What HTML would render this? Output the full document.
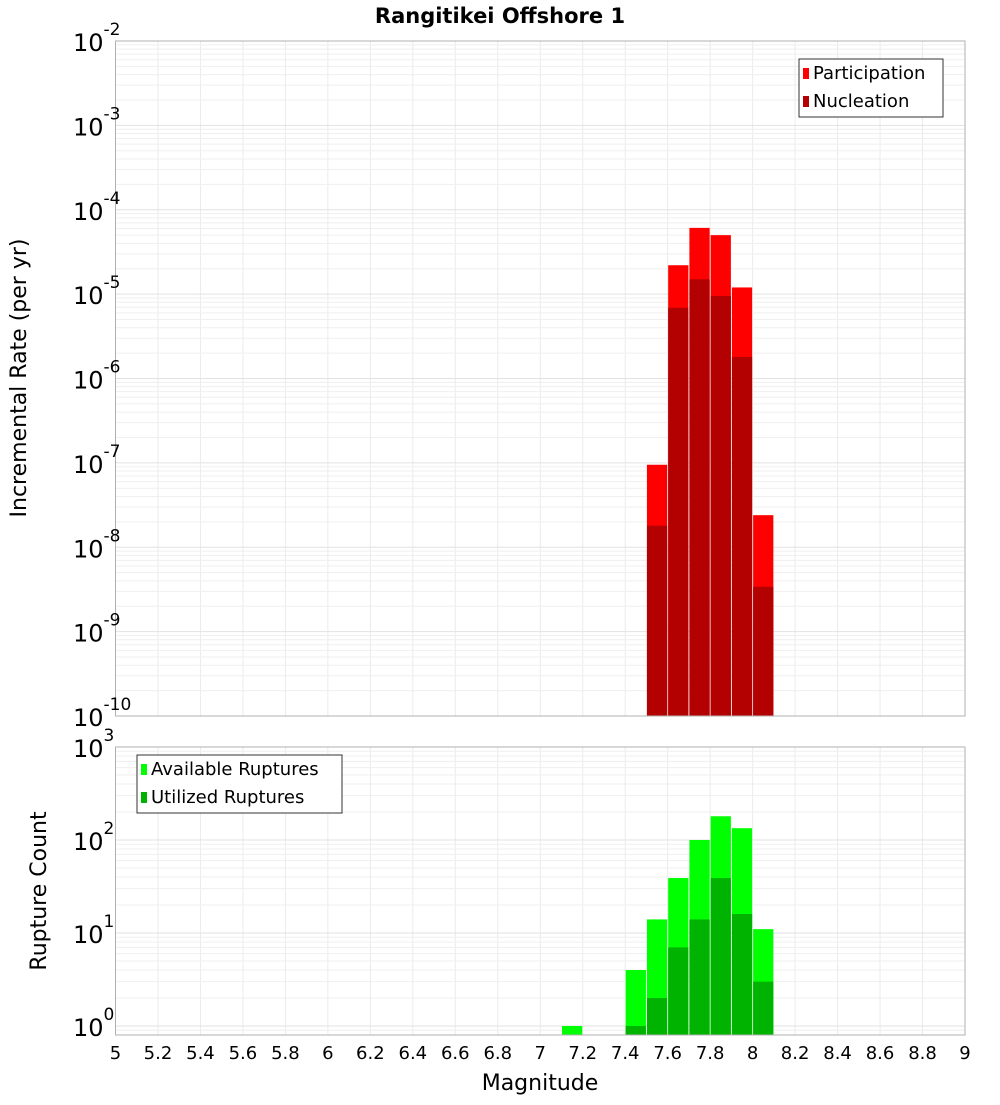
<!DOCTYPE html>
<html><head><meta charset="utf-8"><style>
body{margin:0;background:#fff;width:1000px;height:1100px;overflow:hidden}
svg{font-family:"DejaVu Sans","Liberation Sans",sans-serif}
</style></head><body>
<svg id="c" width="1000" height="1100" xmlns="http://www.w3.org/2000/svg">
<text x="500" y="23" text-anchor="middle" font-size="21" font-weight="bold">Rangitikei Offshore 1</text>
<text transform="translate(26,378) rotate(-90)" text-anchor="middle" font-size="22">Incremental Rate (per yr)</text>
<text transform="translate(46,891) rotate(-90)" text-anchor="middle" font-size="22">Rupture Count</text>
<text x="540" y="1090" text-anchor="middle" font-size="22">Magnitude</text>
<g id="g"></g>
</svg>
<script>
const bins=[7.55,7.65,7.75,7.85,7.95,8.05];
const participation=[9.5e-8,2.2e-5,6.1e-5,5.0e-5,1.2e-5,2.4e-8];
const nucleation=[1.8e-8,6.9e-6,1.5e-5,9.5e-6,1.8e-6,3.4e-9];
const rupBins=[7.15,7.45,7.55,7.65,7.75,7.85,7.95,8.05];
const available=[1,4,14,39,100,180,134,11];
const utilized=[0,1,2,7,14,39,16,3];
const xTicks=[5,5.2,5.4,5.6,5.8,6,6.2,6.4,6.6,6.8,7,7.2,7.4,7.6,7.8,8,8.2,8.4,8.6,8.8,9];
const topExps=[-10,-9,-8,-7,-6,-5,-4,-3,-2];
const botExps=[0,1,2,3];

const NS="http://www.w3.org/2000/svg";
const g=document.getElementById('g');
function mk(t,a,p){const e=document.createElementNS(NS,t);for(const k in a)e.setAttribute(k,a[k]);(p||g).appendChild(e);return e;}
const X0=115.5,X1=965;
const x=v=>X0+(v-5)/4*(X1-X0);
const T0=41,T1=716;
const yTop=v=>T1-(Math.log10(v)+10)/8*(T1-T0);
const B0=747,B1=1035;
const bdec=93;
const yBot=v=>1026-Math.log10(v)*bdec;

function frame(y0,y1,yf,lo,hi,minV){
  for(const t of xTicks){const l=mk('line',{x1:x(t),x2:x(t),y1:y0,y2:y1,stroke:'#ebebeb'});}
  for(let e=lo;e<hi;e++)for(let m=1;m<10;m++){const v=m*Math.pow(10,e);if(v<minV)continue;const yy=yf(v);if(yy<y0||yy>y1)continue;const l=mk('line',{x1:X0,x2:X1,y1:yy,y2:yy,stroke:m==1?'#e2e2e2':'#efefef'});}
}
frame(T0,T1,yTop,-10,-2,1e-10);
frame(B0,B1,yBot,-1,3,0.8);

const bw=(X1-X0)/40;
function bar(cx,v,yf,base,fill,name){if(!(v>0))return;const yy=yf(v);const r=mk('rect',{x:x(cx)-bw/2+0.5,y:yy,width:bw-1,height:base-yy,fill:fill});}
bins.forEach((b,i)=>bar(b,participation[i],yTop,T1,'#ff0000','participation-bar'));
bins.forEach((b,i)=>bar(b,nucleation[i],yTop,T1,'#b30000','nucleation-bar'));
rupBins.forEach((b,i)=>bar(b,available[i],yBot,B1,'#00ff00','available-bar'));
rupBins.forEach((b,i)=>bar(b,utilized[i],yBot,B1,'#00b300','utilized-bar'));

let f=mk('rect',{x:X0,y:T0,width:X1-X0,height:T1-T0,fill:'none',stroke:'#b0b0b0'});

f=mk('rect',{x:X0,y:B0,width:X1-X0,height:B1-B0,fill:'none',stroke:'#b0b0b0'});


function ylab(yy,e,name){const t=mk('text',{x:73,y:yy+10,'font-size':24});t.textContent='10';const s=mk('tspan',{dy:-16,'font-size':17},t);s.textContent=String(e);}
topExps.forEach(e=>ylab(yTop(Math.pow(10,e)),e,'top-y-tick-label'));
botExps.forEach(e=>ylab(yBot(Math.pow(10,e)),e,'bottom-y-tick-label'));
for(const t of xTicks){const l=mk('text',{x:x(t),y:1059,'text-anchor':'middle','font-size':18});l.textContent=String(t);}

function legend(bx,by,w,items,name){const lg=mk('g',{});
 mk('rect',{x:bx,y:by,width:w,height:58,fill:'#fff',stroke:'#333'},lg);
 items.forEach((it,i)=>{mk('rect',{x:bx+4,y:by+9+i*28,width:6,height:11,fill:it[1]},lg);const t=mk('text',{x:bx+14,y:by+20+i*28,'font-size':18},lg);t.textContent=it[0];});}
legend(799,59,144,[['Participation','#ff0000'],['Nucleation','#b30000']],'top-legend');
legend(137,755,205,[['Available Ruptures','#00ff00'],['Utilized Ruptures','#00b300']],'bottom-legend');
</script>
</body></html>
